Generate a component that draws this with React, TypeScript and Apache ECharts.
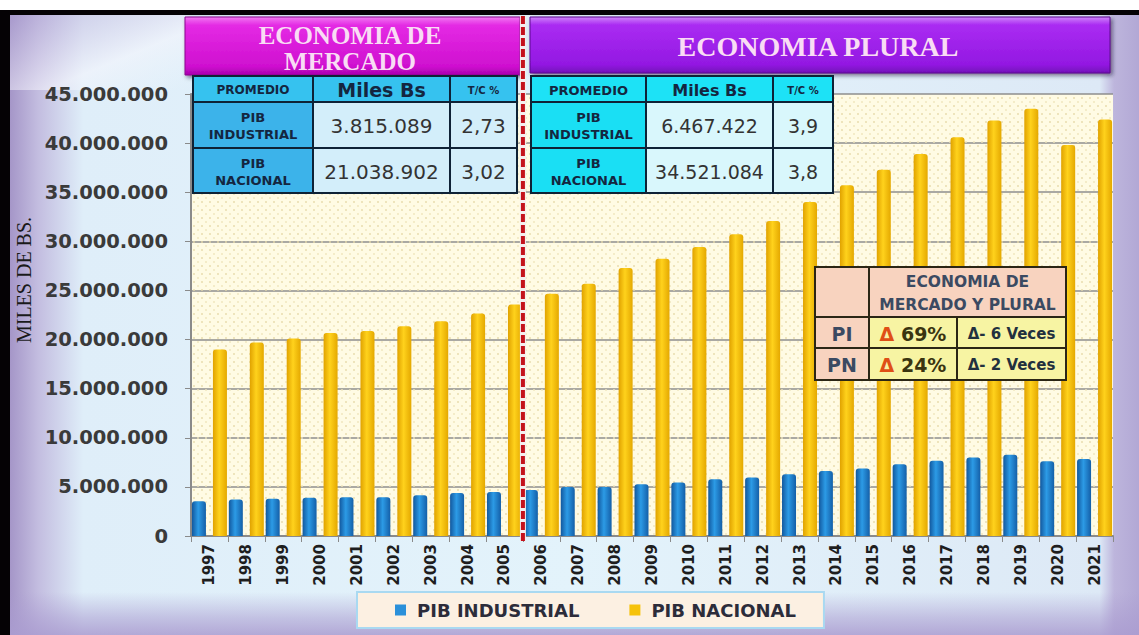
import React, { useEffect, useRef } from 'react';
import * as echarts from 'echarts';

// ---------- data ----------
const years = ['1997', '1998', '1999', '2000', '2001', '2002', '2003', '2004', '2005', '2006', '2007', '2008', '2009', '2010', '2011', '2012', '2013', '2014', '2015', '2016', '2017', '2018', '2019', '2020', '2021'];
const pibIndustrial = [3550000, 3720000, 3780000, 3890000, 3950000, 3950000, 4160000, 4390000, 4490000, 4680000, 5000000, 5000000, 5270000, 5440000, 5780000, 5950000, 6290000, 6630000, 6870000, 7310000, 7650000, 7990000, 8260000, 7620000, 7850000];
const pibNacional = [18990000, 19700000, 20100000, 20680000, 20880000, 21350000, 21860000, 22640000, 23560000, 24660000, 25680000, 27280000, 28230000, 29420000, 30710000, 32070000, 34000000, 35700000, 37300000, 38900000, 40600000, 42300000, 43500000, 39800000, 42400000];
const seriesNames = ['PIB INDUSTRIAL', 'PIB NACIONAL'];
const yAxisTitle = 'MILES DE BS.';
const dividerYear = '2006';

const headerMercado = ['ECONOMIA DE', 'MERCADO'];
const headerPlural = 'ECONOMIA PLURAL';
const tableHeader = ['PROMEDIO', 'Miles Bs', 'T/C %'];
const tableLabels = ['PIB\nINDUSTRIAL', 'PIB\nNACIONAL'];
const mercadoMiles = ['3.815.089', '21.038.902'];
const mercadoTC = ['2,73', '3,02'];
const pluralMiles = ['6.467.422', '34.521.084'];
const pluralTC = ['3,9', '3,8'];
const compareTitle = 'ECONOMIA DE\nMERCADO Y PLURAL';
const compareKeys = ['PI', 'PN'];
const comparePct = ['69%', '24%'];
const compareVeces = ['Δ- 6 Veces', 'Δ- 2 Veces'];

// ---------- layout ----------
const W = 1139;
const H = 635;
const GRID = { left: 191, top: 94, right: 26, bottom: 99 };
const T1X = [193, 313, 450, 517];
const T2X = [531, 646, 773, 833];
const TY = [76, 102, 148, 193];
const CX = [815, 869, 957, 1066];
const CY = [267, 317, 348, 380];

const fmt = (v: number) => String(v).replace(/\B(?=(\d{3})+(?!\d))/g, '.');

const dotSvg = '<svg xmlns="http://www.w3.org/2000/svg" width="8" height="8"><circle cx="2" cy="2" r="0.9" fill="#e6d9a8"/><circle cx="6" cy="6" r="0.9" fill="#efe4bb"/></svg>';
const dotPattern = { image: 'data:image/svg+xml;utf8,' + encodeURIComponent(dotSvg), repeat: 'repeat' };

type Fnt = { size: number; weight?: string; family?: string; color: string; lh?: number };

function buildTable(xs: number[], ys: number[], miles: string[], tc: string[], colors: { head: string; label: string; value: string }, headFonts: Fnt[], labelFont: Fnt, valueFont: Fnt) {
  const els: any[] = [];
  const rows = [tableHeader, ...tableLabels.map((l, i) => [l, miles[i], tc[i]])];
  rows.forEach((row, r) => {
    row.forEach((txt, c) => {
      const x = xs[c];
      const w = xs[c + 1] - xs[c];
      const y = ys[r];
      const h = ys[r + 1] - ys[r];
      const fill = r === 0 ? colors.head : c === 0 ? colors.label : colors.value;
      els.push({ type: 'rect', z: 100, shape: { x, y, width: w, height: h }, style: { fill, stroke: '#0e2236', lineWidth: 2 } });
      const f = r === 0 ? headFonts[c] : c === 0 ? labelFont : valueFont;
      els.push({
        type: 'text', z: 101, x: x + w / 2, y: y + h / 2 + 1,
        style: { text: txt, align: 'center', verticalAlign: 'middle', fill: f.color, fontSize: f.size, fontWeight: f.weight || 'normal', fontFamily: f.family || 'DejaVu Sans', lineHeight: f.lh },
      });
    });
  });
  return els;
}

function buildCompare() {
  const els: any[] = [];
  const peach = '#f8d3bf';
  const yellow = '#f7f4a3';
  const stroke = '#2b2615';
  const title = '#3b4a62';
  els.push({ type: 'rect', z: 100, shape: { x: CX[0], y: CY[0], width: CX[1] - CX[0], height: CY[1] - CY[0] }, style: { fill: peach, stroke, lineWidth: 2 } });
  els.push({ type: 'rect', z: 100, shape: { x: CX[1], y: CY[0], width: CX[3] - CX[1], height: CY[1] - CY[0] }, style: { fill: peach, stroke, lineWidth: 2 } });
  els.push({ type: 'text', z: 101, x: (CX[1] + CX[3]) / 2, y: (CY[0] + CY[1]) / 2 + 1, style: { text: compareTitle, align: 'center', verticalAlign: 'middle', fill: title, fontSize: 15.5, fontWeight: 'bold', fontFamily: 'DejaVu Sans', lineHeight: 23 } });
  compareKeys.forEach((k, i) => {
    const y = CY[i + 1];
    const h = CY[i + 2] - CY[i + 1];
    els.push({ type: 'rect', z: 100, shape: { x: CX[0], y, width: CX[1] - CX[0], height: h }, style: { fill: peach, stroke, lineWidth: 2 } });
    els.push({ type: 'rect', z: 100, shape: { x: CX[1], y, width: CX[2] - CX[1], height: h }, style: { fill: yellow, stroke, lineWidth: 2 } });
    els.push({ type: 'rect', z: 100, shape: { x: CX[2], y, width: CX[3] - CX[2], height: h }, style: { fill: yellow, stroke, lineWidth: 2 } });
    els.push({ type: 'text', z: 101, x: (CX[0] + CX[1]) / 2, y: y + h / 2 + 1, style: { text: k, align: 'center', verticalAlign: 'middle', fill: title, fontSize: 19, fontWeight: 'bold', fontFamily: 'DejaVu Sans' } });
    els.push({
      type: 'text', z: 101, x: (CX[1] + CX[2]) / 2, y: y + h / 2 + 1,
      style: {
        text: '{d|Δ} {v|' + comparePct[i] + '}', align: 'center', verticalAlign: 'middle', fontFamily: 'DejaVu Sans', fontSize: 19, fontWeight: 'bold',
        rich: {
          d: { fill: '#df4f16', fontSize: 19, fontWeight: 'bold', fontFamily: 'DejaVu Sans' },
          v: { fill: '#3a3410', fontSize: 19, fontWeight: 'bold', fontFamily: 'DejaVu Sans' },
        },
      },
    });
    els.push({ type: 'text', z: 101, x: (CX[2] + CX[3]) / 2, y: y + h / 2 + 1, style: { text: compareVeces[i], align: 'center', verticalAlign: 'middle', fill: '#22303e', fontSize: 15, fontWeight: 'bold', fontFamily: 'DejaVu Sans' } });
  });
  return els;
}

function buildBackground() {
  const lav = (a: number) => `rgba(170,156,208,${a})`;
  const plotW = W - GRID.left - GRID.right;
  const plotH = H - GRID.top - GRID.bottom;
  return [
    { type: 'rect', z: -100, shape: { x: 0, y: 0, width: W, height: H }, style: { fill: '#ffffff' } },
    {
      type: 'rect', z: -99, shape: { x: 10, y: 15, width: W - 10, height: H - 15 },
      style: {
        fill: { type: 'linear', x: 0, y: 0, x2: 1, y2: 0, colorStops: [
          { offset: 0, color: '#a596c8' }, { offset: 0.025, color: '#c3bde0' }, { offset: 0.065, color: '#dfeef9' },
          { offset: 0.5, color: '#e3f3fb' }, { offset: 0.965, color: '#dde9f6' }, { offset: 0.978, color: '#bdb5dc' }, { offset: 1, color: '#b2a8d5' },
        ] },
      },
    },
    {
      type: 'rect', z: -98, shape: { x: 10, y: 15, width: 180, height: 75 },
      style: { fill: { type: 'linear', x: 0, y: 0, x2: 1, y2: 1, colorStops: [{ offset: 0, color: lav(0.5) }, { offset: 0.6, color: 'rgba(245,245,252,0.6)' }, { offset: 1, color: 'rgba(240,246,252,0)' }] } },
    },
    {
      type: 'rect', z: -97, shape: { x: 10, y: 592, width: W - 10, height: H - 592 },
      style: { fill: { type: 'linear', x: 0, y: 0, x2: 0, y2: 1, colorStops: [{ offset: 0, color: lav(0) }, { offset: 0.6, color: lav(0.55) }, { offset: 1, color: lav(0.85) }] } },
    },
    { type: 'rect', z: -96, shape: { x: 0, y: 10, width: W, height: 5 }, style: { fill: '#050205' } },
    { type: 'rect', z: -96, shape: { x: 0, y: 10, width: 10, height: H - 10 }, style: { fill: '#050205' } },
    { type: 'rect', z: 1, silent: true, shape: { x: GRID.left + 1, y: GRID.top + 1, width: plotW - 1, height: plotH - 2 }, style: { fill: dotPattern } },
  ];
}

function buildHeaders() {
  const shadow = { shadowBlur: 4, shadowColor: 'rgba(20,0,40,0.55)', shadowOffsetX: 2, shadowOffsetY: 2 };
  const headFont = { fill: '#f9dcf4', fontWeight: 'bold', fontFamily: 'Liberation Serif', align: 'center', verticalAlign: 'middle' };
  return [
    {
      type: 'rect', z: 90, shape: { x: 185, y: 17, width: 335, height: 58 },
      style: { ...shadow, fill: { type: 'linear', x: 0, y: 0, x2: 0, y2: 1, colorStops: [{ offset: 0, color: '#f27af2' }, { offset: 0.14, color: '#e42ae4' }, { offset: 0.85, color: '#cf10d0' }, { offset: 1, color: '#a800ae' }] }, stroke: '#8a0a8e', lineWidth: 1 },
    },
    { type: 'text', z: 91, x: 350, y: 35, style: { ...headFont, text: headerMercado[0], fontSize: 25 } },
    { type: 'text', z: 91, x: 350, y: 61, style: { ...headFont, text: headerMercado[1], fontSize: 25 } },
    {
      type: 'rect', z: 90, shape: { x: 530, y: 17, width: 580, height: 56 },
      style: { ...shadow, fill: { type: 'linear', x: 0, y: 0, x2: 0, y2: 1, colorStops: [{ offset: 0, color: '#cf82fa' }, { offset: 0.14, color: '#aa2cf2' }, { offset: 0.85, color: '#9318e2' }, { offset: 1, color: '#7210b8' }] }, stroke: '#5a0a8e', lineWidth: 1 },
    },
    { type: 'text', z: 91, x: 818, y: 46, style: { ...headFont, text: headerPlural, fontSize: 28 } },
  ];
}

function buildDivider() {
  const plotW = W - GRID.left - GRID.right;
  const catW = plotW / years.length;
  const x = GRID.left + years.indexOf(dividerYear) * catW;
  return [
    { type: 'line', z: 110, shape: { x1: x, y1: 16, x2: x, y2: H - GRID.bottom + 5 }, style: { stroke: '#f4eeee', lineWidth: 6 } },
    { type: 'line', z: 111, shape: { x1: x, y1: 16, x2: x, y2: H - GRID.bottom + 5 }, style: { stroke: '#c4121c', lineWidth: 4, lineDash: [8, 3] } },
  ];
}

export default function App() {
  const ref = useRef<HTMLDivElement>(null);
  useEffect(() => {
    if (!ref.current) return;
    const chart = echarts.init(ref.current, null, { renderer: 'svg' });
    const blueGrad = { type: 'linear', x: 0, y: 0, x2: 1, y2: 0, colorStops: [{ offset: 0, color: '#12589e' }, { offset: 0.45, color: '#2c9be6' }, { offset: 1, color: '#145fa8' }] };
    const yellowGrad = { type: 'linear', x: 0, y: 0, x2: 1, y2: 0, colorStops: [{ offset: 0, color: '#e0a200' }, { offset: 0.45, color: '#ffd21c' }, { offset: 1, color: '#e4a800' }] };
    const axisGray = '#8a8a8a';
    chart.setOption({
      animation: false,
      grid: { ...GRID, show: true, backgroundColor: '#fffbe4', borderWidth: 0 },
      legend: {
        data: [
          { name: seriesNames[0], itemStyle: { color: '#2a90da' } },
          { name: seriesNames[1], itemStyle: { color: '#f6c20a' } },
        ],
        left: 357, top: 592, icon: 'rect', itemWidth: 11, itemHeight: 11, itemGap: 50,
        padding: [9, 28, 9, 38], backgroundColor: '#fcf0e2', borderColor: '#a9d9f1', borderWidth: 2,
        textStyle: { fontFamily: 'DejaVu Sans', fontWeight: 'bold', fontSize: 18, color: '#2c2c3a', padding: [0, 0, 0, 6] },
      },
      xAxis: {
        type: 'category', data: years,
        axisLine: { lineStyle: { color: axisGray, width: 2 } },
        axisTick: { show: true, length: 6, lineStyle: { color: axisGray } },
        axisLabel: { rotate: 90, interval: 0, margin: 8, fontFamily: 'DejaVu Sans', fontWeight: 'bold', fontSize: 15, color: '#1e1e1e' },
      },
      yAxis: {
        type: 'value', min: 0, max: 45000000, interval: 5000000,
        axisLine: { show: true, lineStyle: { color: axisGray, width: 2 } },
        axisTick: { show: true, length: 6, lineStyle: { color: axisGray } },
        splitLine: { lineStyle: { color: '#8e8e8e', width: 1.5 } },
        axisLabel: { formatter: (v: number) => fmt(v), margin: 23, fontFamily: 'DejaVu Sans', fontWeight: 'bold', fontSize: 19.5, color: '#3a3a3a' },
        name: yAxisTitle, nameLocation: 'middle', nameGap: 152, nameRotate: 90,
        nameTextStyle: { fontFamily: 'Liberation Serif', fontSize: 20, color: '#1a1a1a', padding: [0, 0, 0, 70] },
      },
      series: [
        { name: seriesNames[0], type: 'bar', data: pibIndustrial, barWidth: 14, barGap: '50%', itemStyle: { color: blueGrad, borderRadius: [3, 3, 0, 0] } },
        { name: seriesNames[1], type: 'bar', data: pibNacional, barWidth: 14, itemStyle: { color: yellowGrad, borderRadius: [3, 3, 0, 0] } },
      ],
      graphic: [
        ...buildBackground(),
        ...buildHeaders(),
        ...buildTable(T1X, TY, mercadoMiles, mercadoTC, { head: '#36c2ef', label: '#3cb3ea', value: '#d3eefa' },
          [
            { size: 12, weight: 'bold', color: '#142640' },
            { size: 19, weight: 'bold', color: '#142640' },
            { size: 10, weight: 'bold', color: '#142640' },
          ],
          { size: 13, weight: 'bold', color: '#142640', lh: 17 },
          { size: 20, color: '#333333' }),
        ...buildTable(T2X, TY, pluralMiles, pluralTC, { head: '#1de2f6', label: '#1adff4', value: '#d9f7fc' },
          [
            { size: 13, weight: 'bold', color: '#142640' },
            { size: 16, weight: 'bold', color: '#142640' },
            { size: 10, weight: 'bold', color: '#142640' },
          ],
          { size: 13, weight: 'bold', color: '#142640', lh: 17 },
          { size: 19, color: '#333333' }),
        ...buildCompare(),
        ...buildDivider(),
      ],
    });
    return () => chart.dispose();
  }, []);
  return <div ref={ref} style={{ position: 'absolute', left: 0, top: 0, width: W, height: H }} />;
}
